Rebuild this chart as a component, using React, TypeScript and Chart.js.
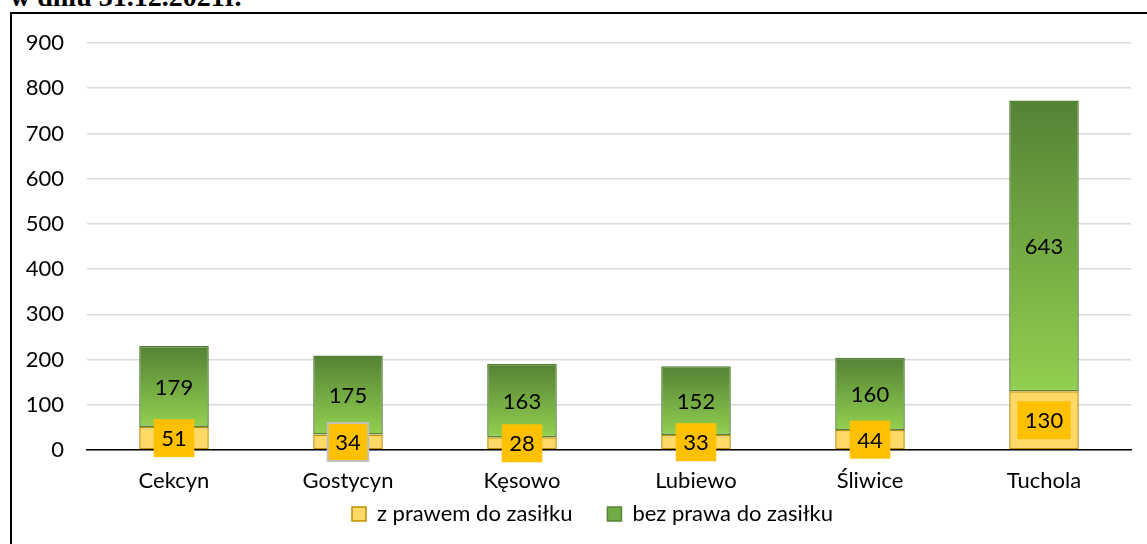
import React, { useEffect, useRef } from "react";
import { Chart, registerables } from "chart.js";

Chart.register(...registerables);

const categories = ["Cekcyn", "Gostycyn", "Kęsowo", "Lubiewo", "Śliwice", "Tuchola"];
const withBenefit = [51, 34, 28, 33, 44, 130];
const withoutBenefit = [179, 175, 163, 152, 160, 643];
const seriesNames = ["z prawem do zasiłku", "bez prawa do zasiłku"];
const yMin = 0;
const yMax = 900;
const yStep = 100;
const titleText = "w dniu 31.12.2021r.";
const highlightedLabel = [false, true, false, false, false, false];

const FONT = "Lato, 'Noto Sans', sans-serif";
const LEGEND_PAD = 35;

const labelPlugin = {
  id: "barLabels",
  afterDatasetsDraw(chart: any) {
    const ctx = chart.ctx;
    ctx.save();
    ctx.font = `22px ${FONT}`;
    ctx.textAlign = "center";
    ctx.textBaseline = "middle";
    chart.data.datasets.forEach((ds: any, di: number) => {
      const meta = chart.getDatasetMeta(di);
      meta.data.forEach((bar: any, i: number) => {
        const p = bar.getProps(["x", "y", "base"], true);
        const cy = (p.y + p.base) / 2;
        const txt = String(ds.data[i]);
        if (di === 0) {
          const w = ctx.measureText(txt).width + 15;
          const h = 38;
          ctx.fillStyle = "#FFC000";
          ctx.fillRect(p.x - w / 2, cy - h / 2, w, h);
          if (highlightedLabel[i]) {
            ctx.strokeStyle = "#BFBFBF";
            ctx.lineWidth = 2;
            ctx.strokeRect(p.x - w / 2, cy - h / 2, w, h);
          }
        }
        ctx.fillStyle = "#000000";
        ctx.fillText(txt, p.x, cy + 1);
      });
    });
    ctx.restore();
  },
};

// Place the built-in legend box (horizontal start and vertical position)
const legendPlacer = {
  id: "legendPlacer",
  afterLayout(chart: any) {
    const lg = chart.legend;
    if (!lg || !lg.lineWidths) return;
    const firstBoxX = 352;
    const itemCenterY = 514;
    const right = chart.width;
    const left = 2 * firstBoxX - LEGEND_PAD - right + lg.lineWidths[0];
    lg.left = left;
    lg.right = right;
    lg.width = right - left;
    lg.top = itemCenterY - LEGEND_PAD - 11;
    lg.bottom = chart.height;
    lg.height = lg.bottom - lg.top;
  },
};

export default function App() {
  const ref = useRef<HTMLCanvasElement | null>(null);

  useEffect(() => {
    if (!ref.current) return;
    const greenFill = (c: any) => {
      const chart = c.chart;
      const ys = chart.scales && chart.scales.y;
      if (!ys || c.type !== "data") return "#70AD47";
      const i = c.dataIndex;
      const top = ys.getPixelForValue(withBenefit[i] + withoutBenefit[i]);
      const bot = ys.getPixelForValue(withBenefit[i]);
      if (!isFinite(top) || !isFinite(bot) || top === bot) return "#70AD47";
      const g = chart.ctx.createLinearGradient(0, top, 0, bot);
      g.addColorStop(0, "#548235");
      g.addColorStop(1, "#92D050");
      return g;
    };

    const chart = new Chart(ref.current, {
      type: "bar",
      data: {
        labels: categories,
        datasets: [
          {
            label: seriesNames[0],
            data: withBenefit,
            backgroundColor: "#FFD966",
            borderColor: "#BF9000",
            borderWidth: 1.5,
            borderSkipped: false,
            barPercentage: 0.4,
            categoryPercentage: 1,
          },
          {
            label: seriesNames[1],
            data: withoutBenefit,
            backgroundColor: greenFill,
            borderColor: "#548235",
            borderWidth: 1.5,
            borderSkipped: false,
            barPercentage: 0.4,
            categoryPercentage: 1,
          },
        ],
      },
      options: {
        animation: false,
        responsive: false,
        maintainAspectRatio: false,
        layout: { padding: { top: 43, right: 16, left: 0, bottom: 50.5 } },
        plugins: {
          tooltip: { enabled: false },
          title: { display: false },
          legend: {
            display: true,
            position: "bottom",
            maxHeight: 1,
            labels: {
              font: { family: FONT, size: 22 },
              color: "#000000",
              boxWidth: 14,
              boxHeight: 14,
              padding: LEGEND_PAD,
              generateLabels: () => [
                {
                  text: seriesNames[0],
                  fillStyle: "#FFD966",
                  strokeStyle: "#BF9000",
                  lineWidth: 1.5,
                  datasetIndex: 0,
                  hidden: false,
                },
                {
                  text: seriesNames[1],
                  fillStyle: "#70AD47",
                  strokeStyle: "#548235",
                  lineWidth: 1.5,
                  datasetIndex: 1,
                  hidden: false,
                },
              ],
            },
          },
        },
        scales: {
          x: {
            stacked: true,
            grid: { display: false, drawTicks: false },
            border: { display: true, color: "#000000", width: 1.5 },
            ticks: {
              font: { family: FONT, size: 22 },
              color: "#000000",
              padding: 18,
              maxRotation: 0,
            },
            afterFit: (s: any) => {
              s.height = 42.5;
            },
          },
          y: {
            stacked: true,
            min: yMin,
            max: yMax,
            grid: { color: "#D9D9D9", lineWidth: 1.5, drawTicks: false },
            border: { display: false },
            ticks: {
              stepSize: yStep,
              font: { family: FONT, size: 22 },
              color: "#000000",
              padding: 23,
            },
            afterFit: (s: any) => {
              s.width = 87;
            },
          },
        },
      },
      plugins: [labelPlugin, legendPlacer],
    });
    return () => chart.destroy();
  }, []);

  return (
    <div
      style={{
        position: "fixed",
        left: 0,
        top: 0,
        width: 1147,
        height: 544,
        overflow: "hidden",
        background: "#ffffff",
      }}
    >
      <div
        style={{
          position: "absolute",
          left: 10,
          top: -17,
          fontFamily: "'Liberation Serif', 'Times New Roman', serif",
          fontWeight: "bold",
          fontSize: 28,
          lineHeight: "28px",
          whiteSpace: "nowrap",
          color: "#000",
        }}
      >
        {titleText}
      </div>
      <div
        style={{
          position: "absolute",
          left: 10,
          top: 12,
          width: 1200,
          height: 600,
          border: "2px solid #000",
          boxSizing: "border-box",
        }}
      />
      <canvas
        ref={ref}
        width={1147}
        height={544}
        style={{ position: "absolute", left: 0, top: 0, width: 1147, height: 544 }}
      />
    </div>
  );
}
